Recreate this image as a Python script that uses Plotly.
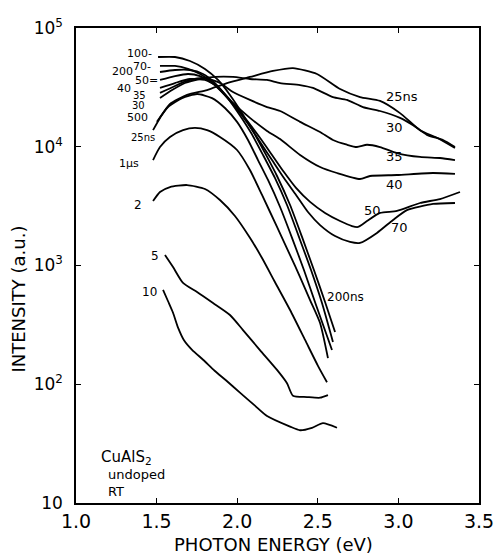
import plotly.graph_objects as go

# ---- data (photon energy in eV, intensity in a.u.) ----
e_25ns = [1.478,1.521,1.583,1.689,1.813,1.937,2.079,2.222,2.346,2.495,2.638,2.762,2.886,3.010,3.134,3.239,3.351]
i_25ns = [13800,17500,22900,27300,30000,34400,38700,43500,46000,41000,30600,26200,24300,19200,13800,11900,9750]

e_30 = [1.521,1.596,1.676,1.769,1.862,1.974,2.079,2.185,2.266,2.390,2.470,2.594,2.681,2.780,2.886,3.010,3.091,3.177,3.277,3.351]
i_30 = [25700,30000,34400,37200,38700,38700,37200,36500,34400,33100,31300,26200,24800,21600,20000,17500,15200,12600,11400,9950]

e_35 = [1.521,1.614,1.707,1.800,1.893,1.974,2.079,2.185,2.266,2.390,2.514,2.594,2.681,2.743,2.805,2.886,2.991,3.134,3.258,3.351]
i_35 = [28400,32500,36500,37900,34400,28900,24800,21600,20000,16200,13300,11400,10400,9950,10400,9950,8850,8200,8040,7730]

e_40 = [1.521,1.614,1.707,1.800,1.881,1.974,2.079,2.185,2.266,2.390,2.514,2.619,2.762,2.824,2.991,3.215,3.351]
i_40 = [31300,34400,37200,36500,31900,23400,17500,13600,11600,8530,6750,6010,5350,5670,5780,6010,5900]

e_50 = [1.521,1.614,1.695,1.769,1.844,1.918,1.993,2.067,2.141,2.216,2.290,2.365,2.452,2.545,2.638,2.712,2.749,2.805,2.886,2.991,3.134,3.258,3.382]
i_50 = [36500,39400,41000,39400,34400,27800,21600,16200,11900,8530,6120,4500,3430,2770,2370,2150,2110,2370,2770,2880,3360,3630,4160]

e_70 = [1.521,1.614,1.695,1.769,1.844,1.918,1.993,2.067,2.141,2.216,2.290,2.365,2.439,2.514,2.607,2.700,2.762,2.867,2.967,3.053,3.215,3.351]
i_70 = [47900,47900,45200,41000,35100,27800,21200,15600,11000,7730,5460,3930,2820,2190,1770,1580,1550,1880,2420,2930,3300,3360]

e_100 = [1.509,1.614,1.707,1.800,1.881,1.955,2.030,2.104,2.179,2.247,2.328,2.402,2.476,2.545,2.607]
i_100 = [57000,57000,52700,45200,36500,27300,19200,13100,8530,5670,3230,1740,916,493,275]

e_200 = [1.521,1.614,1.707,1.788,1.862,1.937,2.011,2.086,2.160,2.234,2.309,2.383,2.458,2.526,2.594]
i_200 = [42600,44300,44300,41000,34400,26200,18900,13100,8530,5460,3230,1740,916,483,227]

e_500 = [1.502,1.571,1.658,1.751,1.844,1.924,1.999,2.067,2.129,2.191,2.266,2.340,2.414,2.489,2.588]
i_500 = [16200,21600,25700,27800,25700,21200,16200,11400,7730,5250,3110,1710,916,465,194]

e_1us = [1.478,1.521,1.583,1.664,1.738,1.813,1.893,1.999,2.079,2.154,2.247,2.328,2.390,2.452,2.514,2.563]
i_1us = [7730,9950,12100,13800,14400,13800,12100,9390,6370,3930,2110,1225,800,512,328,166]

e_2us = [1.478,1.521,1.583,1.689,1.800,1.893,1.986,2.079,2.154,2.234,2.328,2.421,2.501,2.557]
i_2us = [3490,4160,4580,4760,4410,3560,2610,1710,1156,726,422,236,143,104]

e_5us = [1.552,1.602,1.664,1.751,1.850,1.955,2.036,2.141,2.247,2.309,2.346,2.433,2.514,2.563]
i_5us = [1225,970,713,598,483,383,286,194,132,102,80,78,77,81]

e_10us = [1.540,1.571,1.602,1.633,1.670,1.720,1.790,1.860,1.930,2.017,2.110,2.185,2.328,2.390,2.464,2.532,2.619]
i_10us = [622,500,400,300,235,195,160,130,108,85,66,54,44,41,43,47,43]

x_ticks = [1.0, 1.5, 2.0, 2.5, 3.0, 3.5]
x_ticklabels = ["1.0", "1.5", "2.0", "2.5", "3.0", "3.5"]
y_ticks = [10, 100, 1000, 10000, 100000]
y_ticklabels = ["10", "10<sup>2</sup>", "10<sup>3</sup>", "10<sup>4</sup>", "10<sup>5</sup>"]

series = [
    (e_25ns, i_25ns), (e_30, i_30), (e_35, i_35), (e_40, i_40), (e_50, i_50),
    (e_70, i_70), (e_100, i_100), (e_200, i_200), (e_500, i_500), (e_1us, i_1us),
    (e_2us, i_2us), (e_5us, i_5us), (e_10us, i_10us),
]

fig = go.Figure()
for ex, iy in series:
    fig.add_trace(go.Scatter(x=ex, y=iy, mode="lines",
                             line=dict(color="black", width=1.8, shape="spline", smoothing=0.6),
                             showlegend=False, hoverinfo="skip"))

FONT = "DejaVu Sans"

def ann(text, x, ly, anchor="right", size=12):
    fig.add_annotation(x=x, y=ly, xref="x", yref="y", text=text, showarrow=False,
                       xanchor=anchor, yanchor="middle", borderpad=0,
                       font=dict(size=size, family=FONT, color="black"))

# left labels
ann("100-", 1.480, 4.785, size=11)
ann("200", 1.362, 4.630, size=11)
ann("70-", 1.470, 4.672, size=11)
ann("50=", 1.515, 4.562, size=11)
ann("40", 1.345, 4.490, size=11)
ann("35", 1.440, 4.430, size=10)
ann("30", 1.435, 4.345, size=10)
ann("500", 1.450, 4.245, size=11)
ann("25ns", 1.495, 4.080, size=10)
ann("1μs", 1.400, 3.855, size=11)
ann("2", 1.415, 3.509)
ann("5", 1.521, 3.080)
ann("10", 1.509, 2.777)
# right labels
ann("25ns", 2.917, 4.419, anchor="left", size=13)
ann("30", 2.917, 4.166, anchor="left", size=13)
ann("35", 2.917, 3.922, anchor="left", size=13)
ann("40", 2.917, 3.678, anchor="left", size=13)
ann("50", 2.780, 3.459, anchor="left", size=13)
ann("70", 2.948, 3.324, anchor="left", size=13)
ann("200ns", 2.551, 2.735, anchor="left", size=12)
# sample info
ann("CuAlS<sub>2</sub>", 1.149, 1.387, anchor="left", size=15)
ann("undoped", 1.192, 1.236, anchor="left", size=13)
ann("RT", 1.192, 1.093, anchor="left", size=13)

# leader for the 40 label
fig.add_shape(type="line", xref="x", yref="y", x0=1.350, x1=1.521, y0=4.495, y1=4.495,
              line=dict(color="black", width=1.4))

# axis titles
fig.add_annotation(text="INTENSITY (a.u.)", xref="paper", yref="paper", x=-0.142, y=0.43,
                   xanchor="center", textangle=-90, showarrow=False,
                   font=dict(size=18, family=FONT, color="black"))
fig.add_annotation(text="PHOTON ENERGY (eV)", xref="paper", yref="paper", x=0.49, y=-0.088,
                   yanchor="middle", showarrow=False, font=dict(size=18, family=FONT, color="black"))

axis_common = dict(showline=True, linecolor="black", linewidth=1.5, mirror="ticks",
                   ticks="inside", ticklen=5, tickcolor="black", tickwidth=1.3,
                   showgrid=False, zeroline=False, automargin=False)

fig.update_xaxes(range=[1.0, 3.5], tickvals=x_ticks, ticktext=x_ticklabels,
                 ticklabeloverflow="allow",
                 tickfont=dict(size=19, family=FONT, color="black"), **axis_common)
fig.update_yaxes(type="log", range=[1, 5], tickvals=y_ticks, ticktext=y_ticklabels,
                 ticklabelstandoff=8, ticklabeloverflow="allow",
                 tickfont=dict(size=17, family=FONT, color="black"), **axis_common)

fig.update_layout(width=494, height=556, margin=dict(l=76, r=15, t=28, b=53),
                  paper_bgcolor="white", plot_bgcolor="white")

fig.write_html("out.html")
